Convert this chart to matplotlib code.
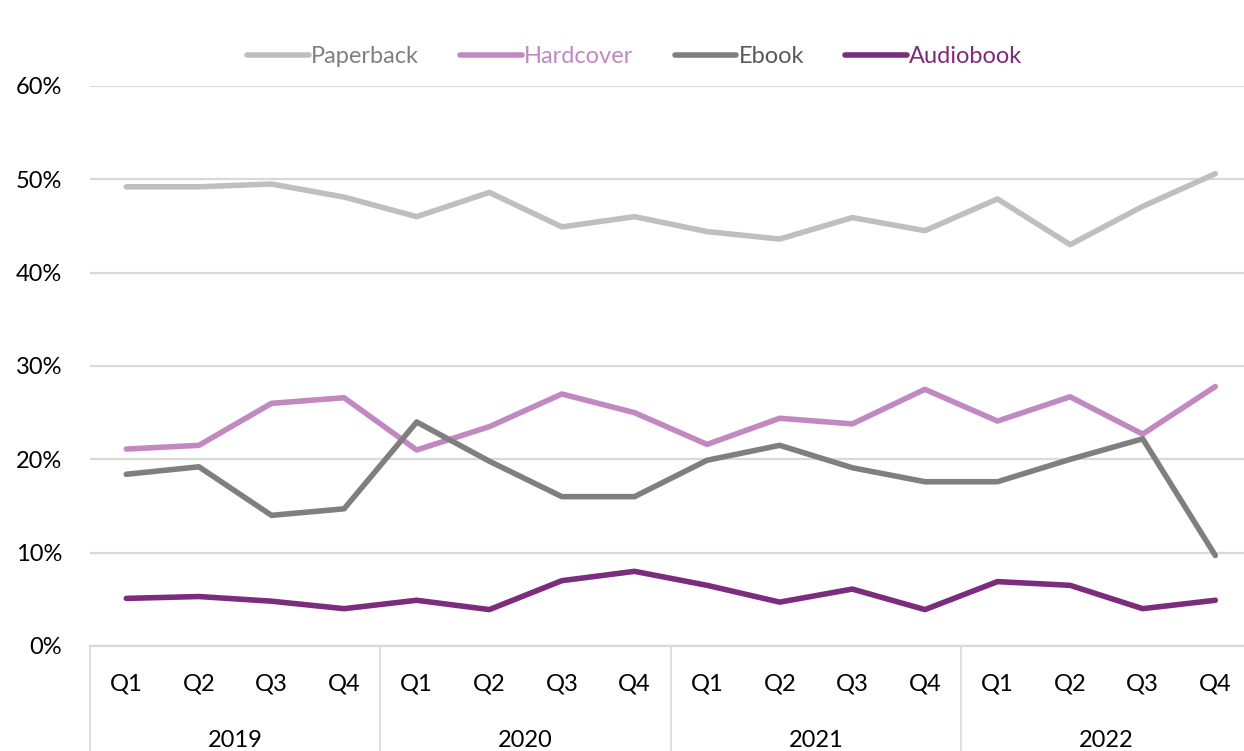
import matplotlib.pyplot as plt
import matplotlib.transforms as mtransforms
import numpy as np

# dados
quarters = ['Q1', 'Q2', 'Q3', 'Q4'] * 4
years = ['2019', '2020', '2021', '2022']

paperback = [49.2, 49.2, 49.5, 48.1, 46.0, 48.6, 44.9, 46.0,
             44.4, 43.6, 45.9, 44.5, 47.9, 43.0, 47.1, 50.6]
hardcover = [21.1, 21.5, 26.0, 26.6, 21.0, 23.5, 27.0, 25.0,
             21.6, 24.4, 23.8, 27.5, 24.1, 26.7, 22.7, 27.8]
ebook = [18.4, 19.2, 14.0, 14.7, 24.0, 19.8, 16.0, 16.0,
         19.9, 21.5, 19.1, 17.6, 17.6, 20.0, 22.2, 9.7]
audiobook = [5.1, 5.3, 4.8, 4.0, 4.9, 3.9, 7.0, 8.0,
             6.5, 4.7, 6.1, 3.9, 6.9, 6.5, 4.0, 4.9]

series = [('Paperback', paperback, '#BFBFBF'),
          ('Hardcover', hardcover, '#C288C2'),
          ('Ebook', ebook, '#7F7F7F'),
          ('Audiobook', audiobook, '#7B2C7C')]

plt.rcParams['font.family'] = ['Lato', 'DejaVu Sans']

fig = plt.figure(figsize=(12.44, 7.51), dpi=100)
ax = fig.add_axes([90 / 1244, 105 / 751, 1161.6 / 1244, 560 / 751])

x = np.arange(len(quarters))
for name, vals, col in series:
    ax.plot(x, vals, color=col, linewidth=4, label=name, solid_capstyle='round')

ax.set_xlim(-0.5, 15.5)
ax.set_ylim(0, 60)
ax.set_yticks(np.arange(0, 61, 10))
ax.set_yticklabels([f'{v}%' for v in range(0, 61, 10)], fontsize=17)
ax.grid(axis='y', color='#D9D9D9', linewidth=1.6)
ax.set_axisbelow(True)
for s in ['top', 'right', 'left']:
    ax.spines[s].set_visible(False)
ax.spines['bottom'].set_color('#D9D9D9')
ax.spines['bottom'].set_linewidth(1.6)
ax.tick_params(axis='y', length=0, pad=20)

ax.set_xticks(x)
ax.set_xticklabels(quarters, fontsize=17)
ax.tick_params(axis='x', length=0, pad=20)

trans = mtransforms.blended_transform_factory(ax.transData, ax.transAxes)
for i in range(4):
    ax.plot([i * 4 - 0.5, i * 4 - 0.5], [0, -0.2], color='#D9D9D9', linewidth=1.2,
            transform=trans, clip_on=False)
    ax.text(i * 4 + 1.5, -0.168, years[i], transform=trans, ha='center', va='center',
            fontsize=17)

leg = ax.legend(loc='center', bbox_to_anchor=(0.5 - 36 / 1161.6, 1.053), ncol=4, frameon=False,
                fontsize=17, handlelength=2.6, handletextpad=0.1, columnspacing=1.75)
for txt, (name, vals, col) in zip(leg.get_texts(), series):
    txt.set_color('#808080' if name == 'Paperback' else ('#595959' if name == 'Ebook' else col))

plt.savefig('out.png', dpi=100)
